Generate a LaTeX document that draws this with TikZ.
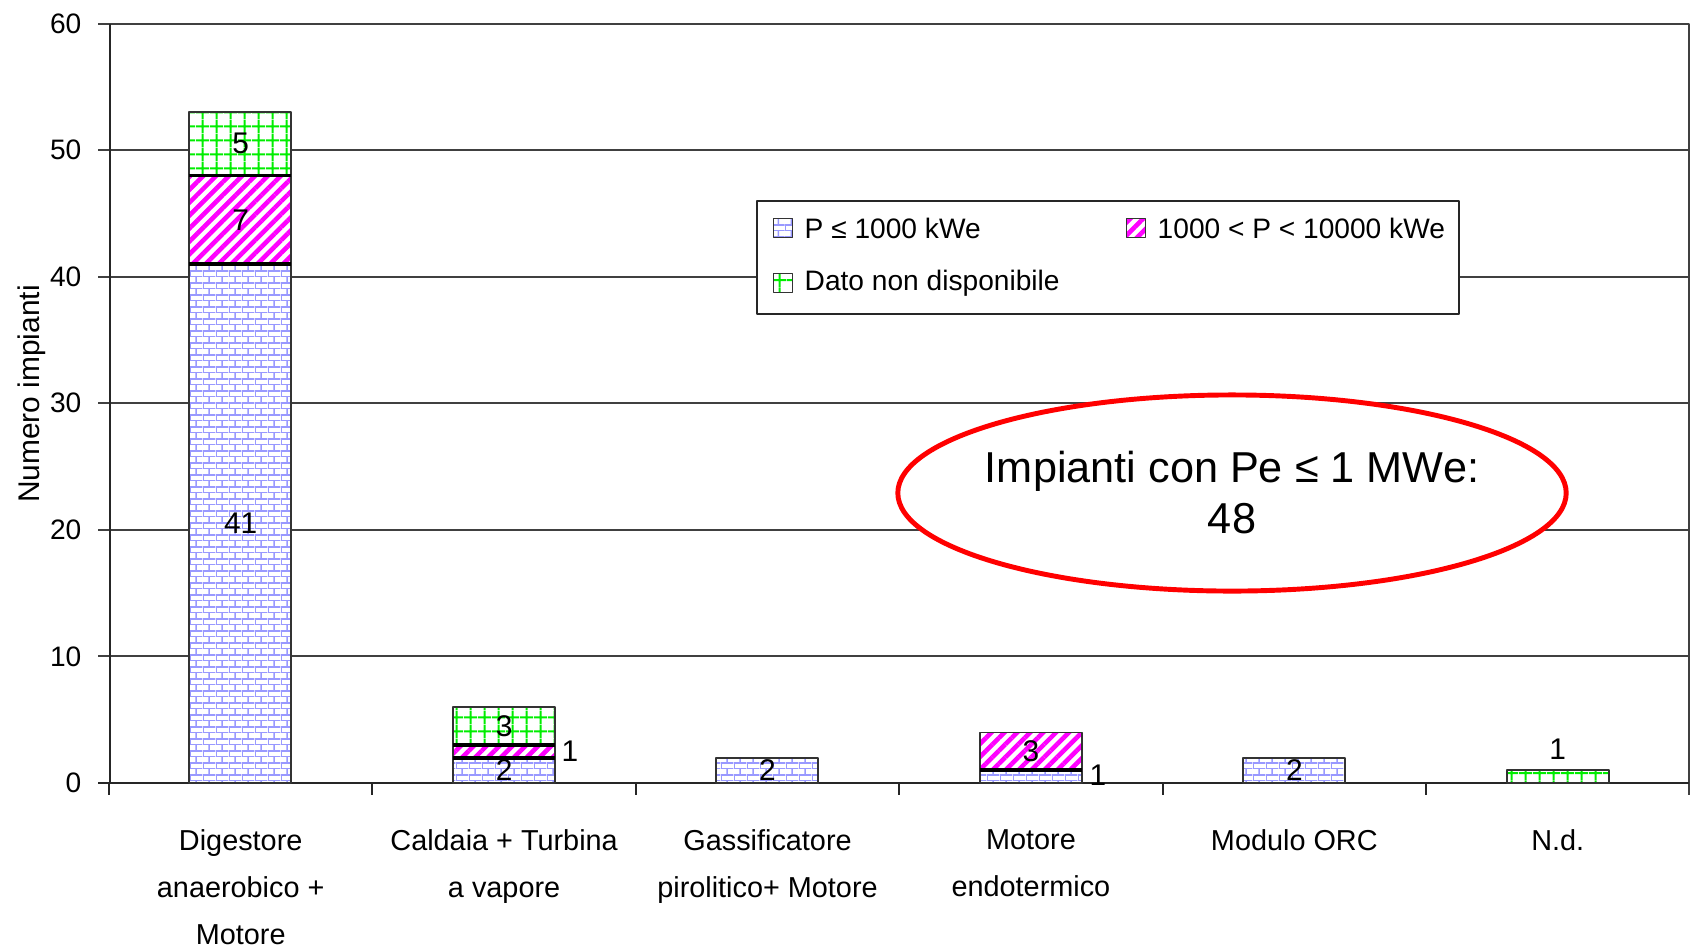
\documentclass[tikz,border=0pt]{standalone}
\usepackage{fontspec}
\setmainfont{Liberation Sans}
\usetikzlibrary{patterns,patterns.meta,shapes.geometric}
\pgfdeclarepatternformonly{smallbricks}{\pgfpointorigin}{\pgfqpoint{3.6pt}{3.4pt}}{\pgfqpoint{3.6pt}{3.4pt}}{%
  \pgfsetlinewidth{0.45pt}%
  \pgfpathmoveto{\pgfqpoint{0pt}{0pt}}\pgfpathlineto{\pgfqpoint{3.6pt}{0pt}}%
  \pgfpathmoveto{\pgfqpoint{0pt}{1.7pt}}\pgfpathlineto{\pgfqpoint{3.6pt}{1.7pt}}%
  \pgfpathmoveto{\pgfqpoint{0pt}{0pt}}\pgfpathlineto{\pgfqpoint{0pt}{1.7pt}}%
  \pgfpathmoveto{\pgfqpoint{1.8pt}{1.7pt}}\pgfpathlineto{\pgfqpoint{1.8pt}{3.4pt}}%
  \pgfusepath{stroke}}
\pgfdeclarepatternformonly{greengrid}{\pgfpointorigin}{\pgfqpoint{4pt}{4pt}}{\pgfqpoint{4pt}{4pt}}{%
  \pgfsetlinewidth{0.6pt}%
  \pgfpathmoveto{\pgfqpoint{0pt}{2pt}}\pgfpathlineto{\pgfqpoint{4pt}{2pt}}%
  \pgfpathmoveto{\pgfqpoint{2pt}{0pt}}\pgfpathlineto{\pgfqpoint{2pt}{4pt}}%
  \pgfusepath{stroke}}
\definecolor{brickblue}{HTML}{9999FF}
\definecolor{hatchpink}{HTML}{FF00FF}
\definecolor{gridgreen}{HTML}{00EE00}
\tikzset{
  gridline/.style={draw=black!75,line width=0.55pt},
  axisline/.style={draw=black!85,line width=0.6pt},
  low/.style={draw=black!80,line width=0.5pt,preaction={fill=white},pattern=smallbricks,pattern color=brickblue},
  mid/.style={draw=black!80,line width=0.5pt,preaction={fill=white},pattern={Lines[angle=45,distance=2.6pt,line width=1.3pt]},pattern color=hatchpink},
  nodata/.style={draw=black!80,line width=0.5pt,preaction={fill=white},pattern=greengrid,pattern color=gridgreen},
  sep/.style={draw=black,line width=1.1pt},
  val/.style={inner sep=0pt,font=\fontsize{8.5}{10}\selectfont},
  tick/.style={anchor=east,inner sep=0pt,font=\fontsize{8}{10}\selectfont},
  cat/.style={anchor=north,inner sep=0pt,align=center,font=\fontsize{8.2}{13.3}\selectfont},
  key/.style={anchor=west,inner sep=0pt,font=\fontsize{8}{10}\selectfont},
}
\begin{document}
\begin{tikzpicture}[x=0.01cm,y=-0.01cm,line join=bevel]
\useasboundingbox (0,0) rectangle (1692,948);
%%
\begin{scope}[shift={(0,783)},y=0.1265cm]
  \draw [gridline] (98,10) -- (1689,10);
  \draw [gridline] (98,20) -- (1689,20);
  \draw [gridline] (98,30) -- (1689,30);
  \draw [gridline] (98,40) -- (1689,40);
  \draw [gridline] (98,50) -- (1689,50);
  \draw [gridline] (98,60) -- (1689,60) -- (1689,-0.95);
  \draw [axisline] (98,0) -- (1689,0);
  \draw [axisline] (110,0) -- (110,60);
  \draw [axisline] (109,0) -- (109,-0.95);
  \draw [axisline] (372.4,0) -- (372.4,-0.95);
  \draw [axisline] (635.8,0) -- (635.8,-0.95);
  \draw [axisline] (899.2,0) -- (899.2,-0.95);
  \draw [axisline] (1162.6,0) -- (1162.6,-0.95);
  \draw [axisline] (1426,0) -- (1426,-0.95);
  \node (y0) at (82,0) [tick] {0};
  \node (y10) at (82,10) [tick] {10};
  \node (y20) at (82,20) [tick] {20};
  \node (y30) at (82,30) [tick] {30};
  \node (y40) at (82,40) [tick] {40};
  \node (y50) at (82,50) [tick] {50};
  \node (y60) at (82,60) [tick] {60};
%
  \path [low] (189,0) rectangle (291,41);
  \path [mid] (189,41) rectangle (291,48);
  \path [nodata] (189,48) rectangle (291,53);
  \draw [sep] (189,41) -- (291,41);
  \draw [sep] (189,48) -- (291,48);
  \path [low] (453,0) rectangle (555,2);
  \path [mid] (453,2) rectangle (555,3);
  \path [nodata] (453,3) rectangle (555,6);
  \draw [sep] (453,2) -- (555,2);
  \draw [sep] (453,3) -- (555,3);
  \path [low] (716,0) rectangle (818,2);
  \path [low] (980,0) rectangle (1082,1);
  \path [mid] (980,1) rectangle (1082,4);
  \draw [sep] (980,1) -- (1082,1);
  \path [low] (1243,0) rectangle (1345,2);
  \path [nodata] (1507,0) rectangle (1609,1);
%
  \node (dig-low) at (240.7,20.5) [val] {41};
  \node (dig-mid) at (240.7,44.5) [val] {7};
  \node (dig-nd) at (240.7,50.5) [val] {5};
  \node (cal-low) at (504.1,1) [val] {2};
  \node (cal-mid) at (570,2.5) [val] {1};
  \node (cal-nd) at (504.1,4.5) [val] {3};
  \node (gas-low) at (767.5,1) [val] {2};
  \node (mot-low) at (1098,0.63) [val] {1};
  \node (mot-mid) at (1030.9,2.5) [val] {3};
  \node (orc-low) at (1294.3,1) [val] {2};
  \node (nd-nd) at (1557.7,2.7) [val] {1};
\end{scope}
%
\node (ylabel) at (32,394) [rotate=90,inner sep=0pt,font=\fontsize{8.5}{10}\selectfont] {Numero impianti};
\node (cat-dig) at (240.7,829) [cat] {Digestore\\anaerobico +\\Motore};
\node (cat-cal) at (504.1,829) [cat] {Caldaia + Turbina\\a vapore};
\node (cat-gas) at (767.5,829) [cat] {Gassificatore\\pirolitico+ Motore};
\node (cat-mot) at (1030.9,829) [cat] {Motore\\endotermico};
\node (cat-orc) at (1294.3,829) [cat] {Modulo ORC};
\node (cat-nd) at (1557.7,829) [cat] {N.d.};
%
\draw [draw=black!85,line width=0.6pt,fill=white] (757,201) rectangle (1459,314);
\node (key-low) at (783,228) [low,minimum size=0.19cm,inner sep=0pt] {};
\node (txt-low) at (804,228) [key] {P ≤ 1000 kWe};
\node (key-mid) at (1136,228) [mid,minimum size=0.19cm,inner sep=0pt] {};
\node (txt-mid) at (1157,228) [key] {1000 < P < 10000 kWe};
\node (key-nd) at (783,283) [nodata,minimum size=0.19cm,inner sep=0pt] {};
\node (txt-nd) at (804,283) [key] {Dato non disponibile};
%
\node (summary) at (1232,493) [ellipse,draw=red,line width=1.4pt,fill=white,minimum width=6.68cm,minimum height=1.96cm,inner sep=0pt] {};
\node (summary-txt) at (summary.center) [inner sep=0pt,align=center,font=\fontsize{12.3}{14.5}\selectfont] {Impianti con Pe ≤ 1 MWe:\\48};
%
\end{tikzpicture}
\end{document}
